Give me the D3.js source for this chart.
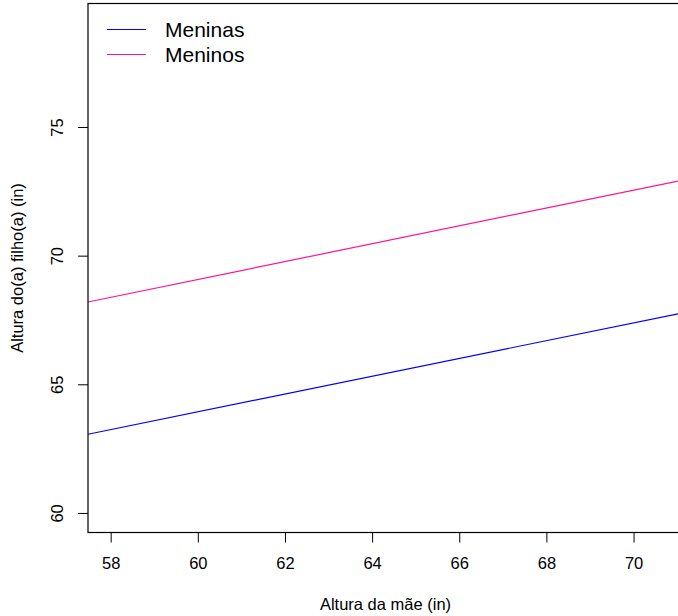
<!DOCTYPE html>
<html lang="pt">
<head>
<meta charset="utf-8">
<title>Altura filho(a) vs mãe</title>
<script src="https://cdn.jsdelivr.net/npm/d3@7"></script>
<style>
  body { margin: 0; background: #fff; }
  svg text { font-family: "Liberation Sans", Arial, sans-serif; fill: #000; }
</style>
</head>
<body>
<div id="plot"></div>
<script>
// fitted lines, endpoints read at the edges of the plot region
var xEnds = [57.48, 71.02];
var meninas = [63.06, 67.74];
var meninos = [68.20, 72.90];
var seriesNames = ["Meninas", "Meninos"];
var seriesColors = ["#0000ff", "#ff1493"];
var xTicks = [58, 60, 62, 64, 66, 68, 70];
var yTicks = [60, 65, 70, 75];

var width = 678, height = 616;
var box = {left: 88, right: 680, top: 3.5, bottom: 532.5};

var svg = d3.select("#plot").append("svg")
    .attr("width", width).attr("height", height);

var x = d3.scaleLinear().domain([57.48, 71.02]).range([box.left, 678]);
var y = d3.scaleLinear().domain([59.24, 79.80]).range([box.bottom, box.top]);

var line = d3.line().x(d => x(d[0])).y(d => y(d[1]));

[meninas, meninos].forEach(function(vals, i) {
  svg.append("path")
     .attr("d", line(xEnds.map((xv, j) => [xv, vals[j]])))
     .attr("stroke", seriesColors[i])
     .attr("stroke-width", 1.2)
     .attr("fill", "none");
});

// axes
var xAxis = svg.append("g")
    .attr("transform", "translate(0," + box.bottom + ")")
    .call(d3.axisBottom(x).tickValues(xTicks).tickSize(10).tickPadding(15).tickSizeOuter(0));
var yAxis = svg.append("g")
    .attr("transform", "translate(" + box.left + ",0)")
    .call(d3.axisLeft(y).tickValues(yTicks).tickSize(10).tickPadding(0).tickSizeOuter(0));
[xAxis, yAxis].forEach(function(a) {
  a.select(".domain").remove();
  a.selectAll("text").style("font-size", "16.5px").attr("font-family", null);
  a.selectAll("line").attr("stroke", "#000");
});
xAxis.selectAll("text").attr("dy", null).attr("y", 36.5);
yAxis.selectAll("text")
    .attr("x", null).attr("dy", null)
    .attr("text-anchor", "middle")
    .attr("transform", "translate(-25,0) rotate(-90)");

// frame
svg.append("rect")
   .attr("x", box.left).attr("y", box.top)
   .attr("width", box.right - box.left).attr("height", box.bottom - box.top)
   .attr("fill", "none").attr("stroke", "#000").attr("stroke-width", 1.2);

// titles
svg.append("text")
   .attr("x", (box.left + 678 + 5) / 2).attr("y", 610)
   .attr("text-anchor", "middle").style("font-size", "16.5px")
   .text("Altura da mãe (in)");
svg.append("text")
   .attr("transform", "translate(23," + ((box.top + box.bottom) / 2) + ") rotate(-90)")
   .attr("text-anchor", "middle").style("font-size", "16.5px")
   .text("Altura do(a) filho(a) (in)");

// legend
seriesNames.forEach(function(name, i) {
  var ly = 29.5 + i * 25;
  svg.append("line")
     .attr("x1", 107).attr("x2", 146).attr("y1", ly).attr("y2", ly)
     .attr("stroke", seriesColors[i]).attr("stroke-width", 1.2);
  svg.append("text")
     .attr("x", 165).attr("y", ly + 7.3)
     .style("font-size", "21px")
     .text(name);
});
</script>
</body>
</html>
